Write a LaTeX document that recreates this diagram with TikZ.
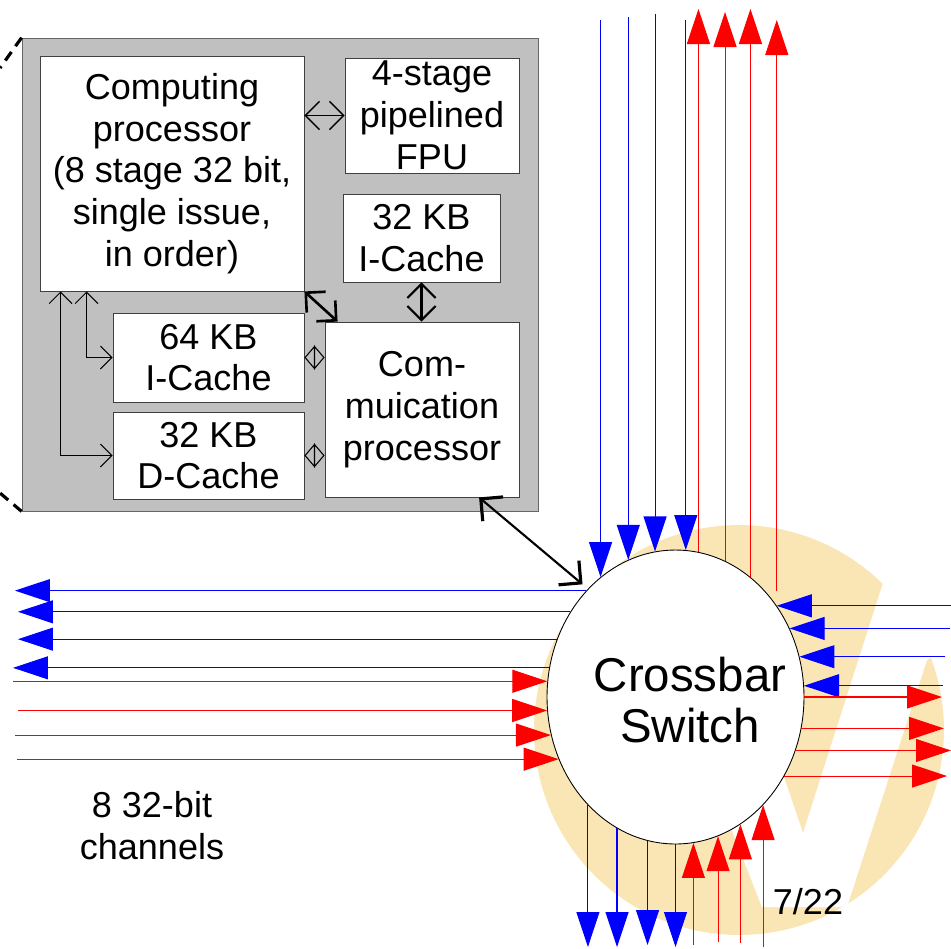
\documentclass[tikz,border=0pt]{standalone}
\usepackage{fontspec}
\setmainfont{Liberation Sans}
\definecolor{logoyellow}{RGB}{250,230,180}
\definecolor{chipgray}{RGB}{192,192,192}
\definecolor{chblue}{RGB}{0,0,255}
\definecolor{chred}{RGB}{255,0,0}
\usetikzlibrary{arrows.meta,positioning,shapes.geometric,calc}

\begin{document}
\begin{tikzpicture}[x=0.02cm, y=-0.02cm,
  blk/.style={draw=black!75, fill=white, line width=0.5pt, align=center, inner sep=0pt, font=\fontsize{20.5}{23.8}\selectfont},
  lbl/.style={align=center, font=\fontsize{20.5}{23.8}\selectfont},
  bch/.style={draw=chblue, line width=0.6pt, -{Triangle[length=0.7cm, width=0.46cm]}},
  rch/.style={draw=chred, line width=0.6pt, -{Triangle[length=0.7cm, width=0.46cm]}},
  thinarr/.style={line width=0.8pt, {Straight Barb[length=8pt, width=16pt]}-{Straight Barb[length=8pt, width=16pt]}},
  thickarr/.style={line width=1.5pt, {Straight Barb[length=8pt, width=16pt]}-{Straight Barb[length=8pt, width=16pt]}},
  medarr/.style={line width=1.2pt, {Straight Barb[length=8pt, width=16pt]}-{Straight Barb[length=8pt, width=16pt]}},
  forkarr/.style={line width=0.6pt, {Straight Barb[length=6.5pt, width=13pt]}-{Straight Barb[length=6.5pt, width=13pt]}},
  diam/.style={line width=0.6pt, {Triangle[open, length=6pt, width=14pt]}-{Triangle[open, length=6pt, width=14pt]}},
  linkarr/.style={line width=1.2pt, shorten >=4pt, {Straight Barb[length=9pt, width=18pt, line width=1.8pt]}-{Straight Barb[length=9pt, width=18pt, line width=1.8pt]}},
  zoomline/.style={line width=1.8pt, dash pattern=on 6pt off 4pt}]

  \useasboundingbox (0,0) rectangle (951,948);

  %% Logo behind the switch
  \fill[logoyellow] (739,730) circle[radius=4.1cm];
  \fill[white] (883,583) -- (803,833) -- (785,780) -- (775,750) -- (720,800) -- (762,907) -- (847,907) -- (927,660) -- (990,620) -- (930,520) -- cycle;

  %% Crossbar switch
  \node[draw, ellipse, fill=white, line width=0.5pt, inner sep=0pt, minimum width=5.14cm, minimum height=5.88cm] (xbar) at (675.5,697) {};
  \node[align=center, font=\fontsize{27}{29.5}\selectfont] (xbarlbl) at (690,700) {Crossbar\\Switch};

  %% Tile
  \node[draw=black!60, fill=chipgray, line width=0.5pt, minimum width=10.32cm, minimum height=9.46cm] (chip) at (280,274.5) {};
  \coordinate (zoomtop) at (0,68);
  \coordinate (zoombot) at (0,493);
  \draw[zoomline] (chip.north west) -- (zoomtop);
  \draw[zoomline] (chip.south west) -- (zoombot);

  \node[blk, minimum width=5.28cm, minimum height=4.7cm]  (comp)     at (172,173.5)   {Computing\\processor\\(8 stage 32 bit,\\single issue,\\in order)};
  \node[blk, minimum width=3.48cm, minimum height=2.3cm]  (fpu)      at (432,115.5)   {4-stage\\pipelined\\FPU};
  \node[blk, minimum width=3.14cm, minimum height=1.76cm] (icache)   at (421.5,238)   {32 KB\\I-Cache};
  \node[blk, minimum width=3.82cm, minimum height=1.78cm] (icache64) at (208.5,357.5) {64 KB\\I-Cache};
  \node[blk, minimum width=3.82cm, minimum height=1.74cm] (dcache)   at (208.5,455.5) {32 KB\\D-Cache};
  \node[blk, minimum width=3.88cm, minimum height=3.5cm]  (comm)     at (422,409.5)   {Com-\\muication\\processor};

  %% Tile links
  \draw[thinarr] (fpu.west -| comp.east) -- (fpu.west);
  \draw[thickarr] (comp.south east) -- ([xshift=0.26cm]comm.north west);
  \draw[medarr] (icache.south) -- (icache.south |- comm.north);
  \draw[forkarr] ([xshift=0.94cm]comp.south west) |- (icache64.west);
  \draw[forkarr] ([xshift=0.42cm]comp.south west) |- (dcache.west);
  \draw[diam] (icache64.east) -- (icache64.east -| comm.west);
  \draw[diam] (dcache.east) -- (dcache.east -| comm.west);
  \draw[linkarr] (comm.303) -- (xbar.129);

  %% Top channels
  \draw[bch] (xbar.122 |- 0,20) -- (xbar.122);
  \draw[bch] (xbar.109 |- 0,17) -- (xbar.109);
  \draw[bch] (xbar.98 |- 0,14) -- (xbar.98);
  \draw[bch] (xbar.86 |- 0,20) -- (xbar.86);
  \draw[rch] (xbar.81) -- (xbar.81 |- 0,9);
  \draw[rch] (xbar.70) -- (xbar.70 |- 0,12);
  \draw[rch] (xbar.58) -- (xbar.58 |- 0,9);
  \draw[rch] ([yshift=0.3cm]xbar.42) -- (xbar.42 |- 0,20);

  %% Left channels
  \draw[bch] (xbar.130) -- (xbar.130 -| 15,0);
  \draw[bch] (xbar.141) -- (xbar.141 -| 18,0);
  \draw[bch] (xbar.154) -- (xbar.154 -| 18,0);
  \draw[bch] (xbar.167) -- (xbar.167 -| 13,0);
  \draw[rch] (xbar.173 -| 13,0) -- (xbar.173);
  \draw[rch] (xbar.186 -| 18,0) -- (xbar.186);
  \draw[rch] (xbar.197 -| 15,0) -- (xbar.197);
  \draw[rch] (xbar.208 -| 17,0) -- (xbar.208);

  %% Right channels
  \draw[bch] (xbar.42 -| 951,0) -- (xbar.42);
  \draw[bch] (xbar.31 -| 950,0) -- (xbar.31);
  \draw[bch] (xbar.18 -| 945,0) -- (xbar.18);
  \draw[bch] (xbar.5 -| 943,0) -- (xbar.5);
  \draw[rch] (xbar.0) -- (xbar.0 -| 942,0);
  \draw[rch] (xbar.346) -- (xbar.346 -| 944,0);
  \draw[rch] (xbar.336) -- (xbar.336 -| 951,0);
  \draw[rch] (xbar.324) -- (xbar.324 -| 947,0);

  %% Bottom channels
  \draw[bch] (xbar.231) -- (xbar.231 |- 0,947);
  \draw[bch] (xbar.246) -- (xbar.246 |- 0,947);
  \draw[bch] (xbar.259) -- (xbar.259 |- 0,945);
  \draw[bch] (xbar.270) -- (xbar.270 |- 0,947);
  \draw[rch] (xbar.277 |- 0,945) -- (xbar.277);
  \draw[rch] (xbar.287 |- 0,942) -- (xbar.287);
  \draw[rch] (xbar.297 |- 0,943) -- (xbar.297);
  \draw[rch] (xbar.309 |- 0,947) -- (xbar.309);

  %% Labels
  \node[lbl] (chanlbl) at (152,826) {8 32-bit\\channels};
  \node[lbl] (pagelbl) at (808,902) {7/22};
\end{tikzpicture}
\end{document}
